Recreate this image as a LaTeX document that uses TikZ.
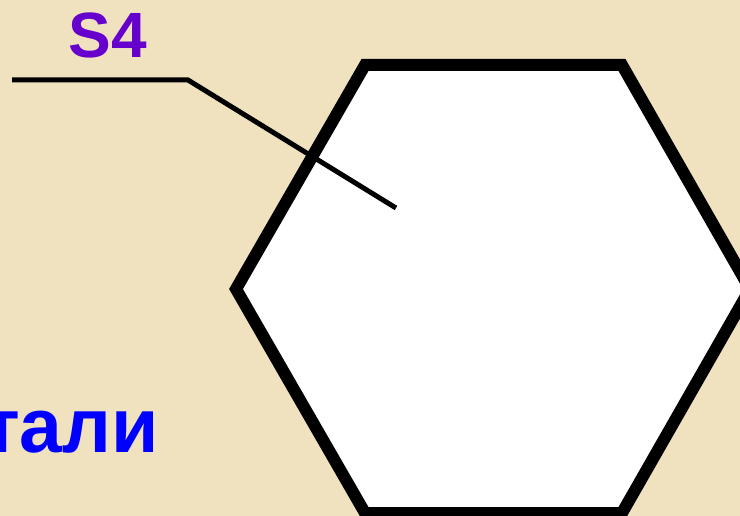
\documentclass[tikz,border=0pt]{standalone}
\usepackage{fontspec}
\setmainfont{Liberation Sans}
\definecolor{parch}{RGB}{240,226,191}
\definecolor{lbpurple}{RGB}{102,0,204}
\definecolor{lbblue}{RGB}{0,0,255}
\tikzset{
  hexline/.style={draw=black, line width=12pt, line join=miter, fill=white},
  leader/.style={draw=black, line width=5pt},
  lbl/.style={inner sep=0pt, font=\bfseries}
}
\begin{document}
\begin{tikzpicture}[x=1pt,y=-1pt]
\useasboundingbox (0,0) rectangle (740,516);
\clip (0,0) rectangle (740,516);
\fill[parch] (0,0) rectangle (740,516);
% hexagon vertices
\coordinate (h1) at (236,289);
\coordinate (h2) at (365,65);
\coordinate (h3) at (622,65);
\coordinate (h4) at (750,289);
\coordinate (h5) at (622,513);
\coordinate (h6) at (365,513);
\path[hexline] (h1) -- (h2) -- (h3) -- (h4) -- (h5) -- (h6) -- cycle;
% leader line
\coordinate (p) at (396,208);
\coordinate (k) at (188,80);
\coordinate (e) at (12,80);
\draw[leader, line join=miter] (p) -- (k) -- (e);
% labels
\node[lbl, text=lbpurple, font=\bfseries\fontsize{64}{64}\selectfont] (s4) at (108,35) {S4};
\node[lbl, text=lbblue, font=\bfseries\fontsize{77}{77}\selectfont, anchor=base east] (word) at (159,452) {тали};
\end{tikzpicture}
\end{document}
